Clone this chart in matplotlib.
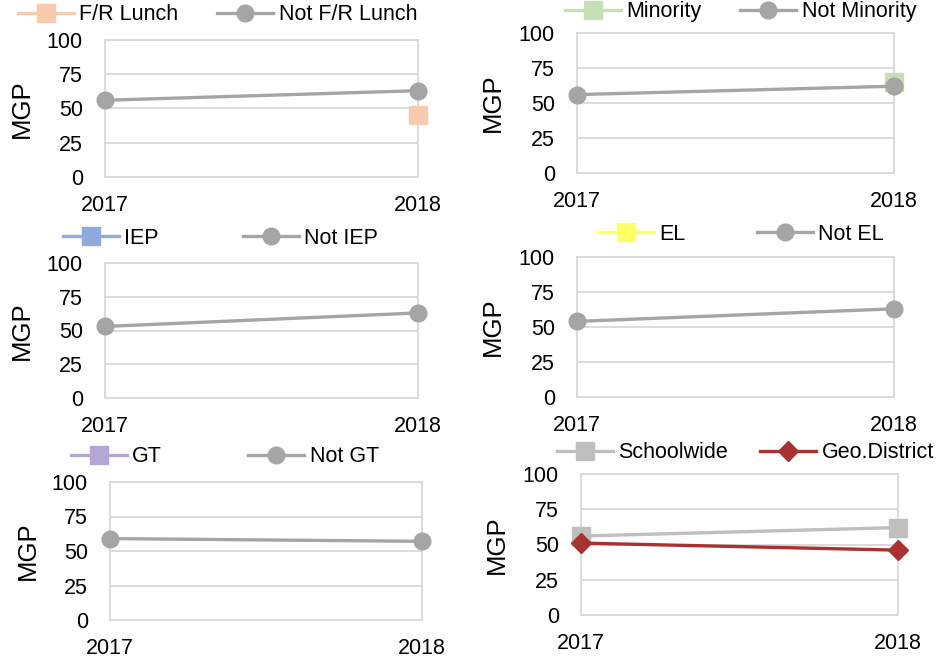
import matplotlib.pyplot as plt
import numpy as np

plt.rcParams['font.family'] = ['Liberation Sans', 'DejaVu Sans']

# data
years = ['2017', '2018']
fr_lunch = [np.nan, 45]
not_fr_lunch = [56, 63]
minority = [np.nan, 65]
not_minority = [56, 62]
iep = [np.nan, np.nan]
not_iep = [53, 63]
el = [np.nan, np.nan]
not_el = [54, 63]
gt = [np.nan, np.nan]
not_gt = [59, 57]
schoolwide = [56, 62]
geo_district = [51, 46]

W, H = 948, 666
fig = plt.figure(figsize=(W / 100, H / 100), dpi=100)

GREY = '#a5a5a5'
FS = 15.5

# panel definitions: (left, right, top, bottom) px, legend (x, y) px, colspacing
panels = [
    dict(box=(105, 418, 40, 177), leg=(18, 15), cs=1.8,
         series=[('F/R Lunch', fr_lunch, '#f8cbad', 's', 13),
                 ('Not F/R Lunch', not_fr_lunch, GREY, 'o', 12)]),
    dict(box=(577, 894, 33, 173), leg=(565, 12), cs=1.8,
         series=[('Minority', minority, '#c5e0b4', 's', 13),
                 ('Not Minority', not_minority, GREY, 'o', 12)]),
    dict(box=(105, 418, 263, 398), leg=(63, 238), cs=3.9,
         series=[('IEP', iep, '#8faadc', 's', 13),
                 ('Not IEP', not_iep, GREY, 'o', 12)]),
    dict(box=(577, 894, 257, 397), leg=(598, 234), cs=3.3,
         series=[('EL', el, '#ffff66', 's', 13),
                 ('Not EL', not_el, GREY, 'o', 12)]),
    dict(box=(110, 422, 482, 620), leg=(71, 457), cs=4.0,
         series=[('GT', gt, '#b4a7d6', 's', 13),
                 ('Not GT', not_gt, GREY, 'o', 12)]),
    dict(box=(581, 898, 474, 615), leg=(557, 453), cs=1.5,
         series=[('Schoolwide', schoolwide, '#bfbfbf', 's', 13),
                 ('Geo.District', geo_district, '#a9312f', 'D', 10)]),
]

for p in panels:
    l, r, t, b = p['box']
    ax = fig.add_axes([l / W, 1 - b / H, (r - l) / W, (b - t) / H])
    x = np.arange(len(years))
    for label, vals, color, mk, ms in p['series']:
        ax.plot(x, vals, color=color, lw=2.4, marker=mk, markersize=ms,
                label=label, clip_on=False, zorder=3)
    ax.set_xlim(0, 1)
    ax.set_ylim(0, 100)
    ax.set_yticks([0, 25, 50, 75, 100])
    ax.set_xticks(x)
    ax.set_xticklabels(years)
    ax.tick_params(axis='both', length=0, labelsize=FS)
    ax.tick_params(axis='y', pad=16)
    ax.tick_params(axis='x', pad=13)
    ax.grid(axis='y', color='#d9d9d9', lw=1.3)
    ax.set_axisbelow(True)
    for s in ax.spines.values():
        s.set_color('#d9d9d9')
        s.set_linewidth(1.3)
    ax.set_ylabel('MGP', fontsize=18.5, va='center')
    ax.yaxis.set_label_coords(-0.264, 0.5)
    lx, ly = p['leg']
    ax.legend(loc='center left', bbox_to_anchor=(lx / W, 1 - ly / H),
              bbox_transform=fig.transFigure, ncol=2, frameon=False,
              fontsize=FS, handlelength=2.6, handletextpad=0.25,
              columnspacing=p['cs'], borderpad=0, borderaxespad=0)

fig.savefig('out.png', dpi=100)
